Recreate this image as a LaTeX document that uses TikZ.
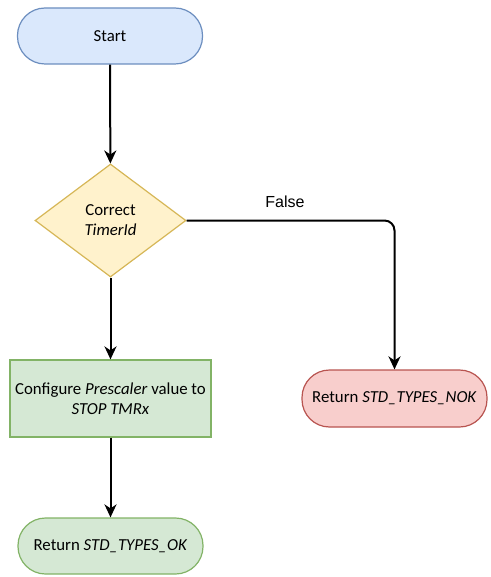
\documentclass[tikz,border=0pt]{standalone}
\usepackage{fontspec}
\setmainfont{Carlito}
\newfontfamily\labelfont{Liberation Sans}
\usetikzlibrary{shapes.geometric,arrows.meta}

\definecolor{startfill}{HTML}{DAE8FC}
\definecolor{startline}{HTML}{6C8EBF}
\definecolor{testfill}{HTML}{FFF2CC}
\definecolor{testline}{HTML}{D6B656}
\definecolor{okfill}{HTML}{D5E8D4}
\definecolor{okline}{HTML}{82B366}
\definecolor{nokfill}{HTML}{F8CECC}
\definecolor{nokline}{HTML}{B85450}

\begin{document}
\begin{tikzpicture}[x=1pt,y=-1pt,font=\fontsize{16.8}{20}\selectfont]

\useasboundingbox (0,0) rectangle (490,577);

\tikzstyle{terminal}=[draw,line width=1.2pt,rectangle,rounded corners=27.5pt,minimum width=185pt,minimum height=56pt,inner sep=0pt]
\tikzstyle{decision}=[draw,line width=1.2pt,diamond,minimum width=151pt,minimum height=113pt,inner sep=0pt,align=center]
\tikzstyle{process}=[draw,line width=1.2pt,rectangle,minimum width=201pt,minimum height=77pt,inner sep=0pt,align=center]
\tikzstyle{flow}=[line width=2pt,-{Stealth[length=13pt,width=12pt,inset=4pt]}]

% shapes
\node[terminal,fill=startfill,draw=startline] (start) at (110,36) {Start};
\node[decision,fill=testfill,draw=testline] (check) at (110.5,220.5) {Correct\\\textit{TimerId}};
\node[process,fill=okfill,draw=okline] (prescaler) at (110.5,398.5) {Configure \textit{Prescaler} value to\\\textit{STOP TMRx}};
\node[terminal,fill=okfill,draw=okline] (retok) at (110.5,546) {Return \textit{STD\_TYPES\_OK}};
\node[terminal,fill=nokfill,draw=nokline,minimum height=57pt] (retnok) at (394.5,398.5) {Return \textit{STD\_TYPES\_NOK}};

% connectors
\draw[flow] (start) -- (check);
\draw[flow] (check) -- (prescaler);
\draw[flow] (prescaler) -- (retok);
\draw[flow,rounded corners=10pt] (check.east) -| (retnok.north);

\node[font=\labelfont\fontsize{16}{19}\selectfont] (falselabel) at (285,202) {False};

\end{tikzpicture}
\end{document}
